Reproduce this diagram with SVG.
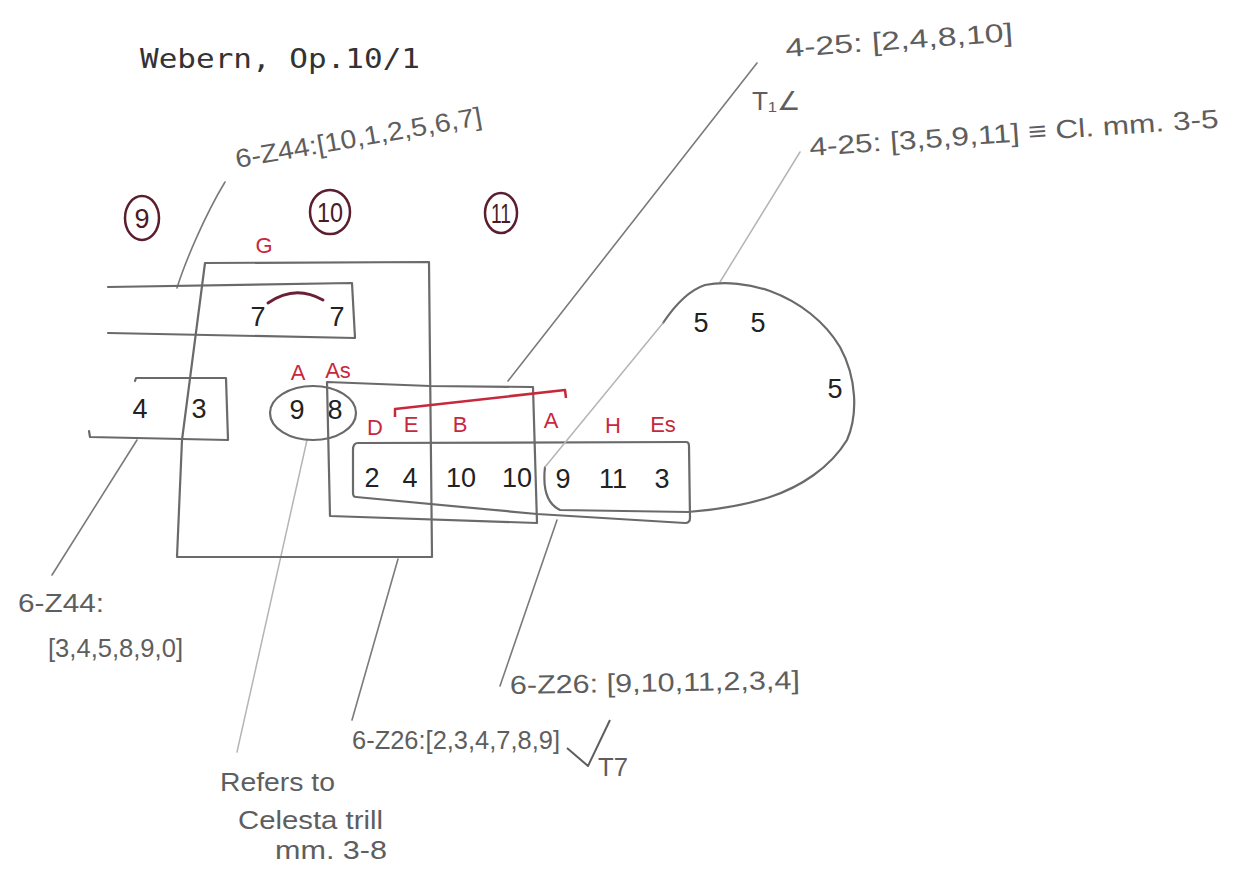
<svg xmlns="http://www.w3.org/2000/svg" width="1236" height="872" viewBox="0 0 1236 872">
<style>
.pen{fill:none;stroke:#6a6a6a;stroke-width:2.2;stroke-linejoin:round;stroke-linecap:round}
.lead{fill:none;stroke:#7a7a7a;stroke-width:1.6;stroke-linecap:round}
.light{fill:none;stroke:#b5b5b5;stroke-width:1.5;stroke-linecap:round}
.num{font-family:"Liberation Sans",Arial,sans-serif;font-size:27px;fill:#222;text-anchor:middle}
.red{font-family:"Liberation Sans",Arial,sans-serif;font-size:22px;fill:#c8283c;text-anchor:middle}
.mnum{font-family:"Liberation Sans",Arial,sans-serif;font-size:27px;fill:#4a1a25;text-anchor:middle}
.mcirc{fill:none;stroke:#5a1e2e;stroke-width:2.5}
.hand{font-family:"Liberation Sans",Arial,sans-serif;font-size:26px;fill:#5e5e5e}
</style>
<rect width="1236" height="872" fill="#fff"/>

<g id="title">
<text x="140" y="68" font-family="DejaVu Sans Mono, monospace" font-size="27" fill="#333" textLength="280" lengthAdjust="spacingAndGlyphs">Webern, Op.10/1</text>
</g>

<g id="connectors">
<path class="lead" d="M177,288 C185,262 205,215 225,182"/>
<path class="lead" d="M137,440 L52,575"/>
<path class="lead" d="M508,381 L757,63"/>
<path class="light" d="M720,282 L800,152"/>
<path class="lead" d="M398,559 L352,720"/>
<path class="light" d="M307,440 L237,752"/>
<path class="lead" d="M557,520 L500,686"/>
</g>

<g id="measure-9"><ellipse class="mcirc" cx="142" cy="218" rx="17" ry="22"/><text class="mnum" x="142" y="228">9</text></g>
<g id="measure-10"><ellipse class="mcirc" cx="330" cy="212" rx="20" ry="22"/><text class="mnum" x="330" y="222" textLength="26" lengthAdjust="spacingAndGlyphs">10</text></g>
<g id="measure-11"><ellipse class="mcirc" cx="501" cy="213" rx="16" ry="20"/><text class="mnum" x="501" y="223" textLength="20" lengthAdjust="spacingAndGlyphs">11</text></g>

<g id="box-G">
<path class="pen" d="M205,263 L429,262 L432,557 L177,557 L182,440 L195,340 Z"/>
<text class="red" x="264" y="253">G</text>
</g>

<g id="box-77">
<path class="pen" d="M108,287 L352,283 L355,338 L108,333"/>
<path d="M268,303 Q295,284 323,300" fill="none" stroke="#6b2035" stroke-width="3" stroke-linecap="round"/>
<text class="num" x="258" y="326" font-size="29">7</text>
<text class="num" x="337" y="326" font-size="29">7</text>
</g>

<g id="box-43">
<path class="pen" d="M135,381 L136,378 L226,378 L228,440 L90,437 L89,431"/>
<text class="num" x="140" y="418" font-size="25">4</text>
<text class="num" x="199" y="418" font-size="25">3</text>
</g>

<g id="ellipse-98">
<ellipse class="pen" cx="313" cy="413" rx="43" ry="27"/>
<text class="red" x="298" y="380">A</text>
<text class="red" x="338" y="378">As</text>
<text class="num" x="297" y="419" font-size="25">9</text>
<text class="num" x="335" y="419" font-size="25">8</text>
</g>

<g id="box-6Z26-a">
<path class="pen" d="M327,382 L430,386 L533,387 L537,523 L330,516 Z"/>
</g>

<g id="box-row">
<path class="pen" d="M358,443 L686,442 Q689,442 689,446 L690,518 Q690,523 685,523 L537,514 L356,497 Q353,497 353,493 L353,450 Q353,443 358,443 Z"/>
<path d="M395,417 L395,409 L565,390 L566,398" fill="none" stroke="#c8283c" stroke-width="2.5" stroke-linejoin="round"/>
<text class="red" x="375" y="435">D</text>
<text class="red" x="411" y="432">E</text>
<text class="red" x="460" y="432">B</text>
<text class="red" x="551" y="428">A</text>
<text class="red" x="613" y="433">H</text>
<text class="red" x="663" y="432">Es</text>
<text class="num" x="372" y="487">2</text>
<text class="num" x="410" y="487">4</text>
<text class="num" x="461" y="487">10</text>
<text class="num" x="517" y="487">10</text>
<text class="num" x="563" y="488">9</text>
<text class="num" x="613" y="488">11</text>
<text class="num" x="662" y="488">3</text>
</g>

<g id="blob">
<path class="pen" d="M663,323 C675,305 690,290 705,285 C725,281 750,284 770,291 C800,302 825,322 840,347 C857,378 858,415 847,440 C830,468 800,487 770,497 C740,507 700,511 688,512 L560,510 C545,503 543,485 545,467"/>
<path class="light" d="M545,467 L663,323"/>
<text class="num" x="701" y="332" font-size="26">5</text>
<text class="num" x="758" y="332" font-size="26">5</text>
<text class="num" x="835" y="398" font-size="26">5</text>
</g>

<g id="label-6Z44-top">
<text class="hand" x="237" y="168" transform="rotate(-10 237 168)" textLength="250" lengthAdjust="spacingAndGlyphs">6-Z44:[10,1,2,5,6,7]</text>
</g>
<g id="label-4-25-a">
<text class="hand" x="786" y="57" transform="rotate(-4 786 57)" textLength="228" lengthAdjust="spacingAndGlyphs">4-25: [2,4,8,10]</text>
<text class="hand" x="752" y="110" font-size="22" textLength="48" lengthAdjust="spacingAndGlyphs">T₁∠</text>
</g>
<g id="label-4-25-b">
<text class="hand" x="810" y="156" transform="rotate(-4 810 156)" textLength="410" lengthAdjust="spacingAndGlyphs">4-25: [3,5,9,11] ≡ Cl. mm. 3-5</text>
</g>
<g id="label-6Z44-bottom">
<text class="hand" x="18" y="612" font-size="24" textLength="86" lengthAdjust="spacingAndGlyphs">6-Z44:</text>
<text class="hand" x="48" y="657" textLength="135" lengthAdjust="spacingAndGlyphs">[3,4,5,8,9,0]</text>
</g>
<g id="label-6Z26-b">
<text class="hand" x="510" y="694" transform="rotate(-1 510 694)" textLength="290" lengthAdjust="spacingAndGlyphs">6-Z26: [9,10,11,2,3,4]</text>
</g>
<g id="label-6Z26-a">
<text class="hand" x="352" y="749" font-size="24" textLength="208" lengthAdjust="spacingAndGlyphs">6-Z26:[2,3,4,7,8,9]</text>
<polyline points="567,748 588,766 610,720" fill="none" stroke="#5e5e5e" stroke-width="2" stroke-linejoin="round"/>
<text class="hand" x="598" y="776" font-size="20" textLength="30" lengthAdjust="spacingAndGlyphs">T7</text>
</g>
<g id="label-celesta">
<text class="hand" x="220" y="791" font-size="23" textLength="115" lengthAdjust="spacingAndGlyphs">Refers to</text>
<text class="hand" x="238" y="829" font-size="22" textLength="145" lengthAdjust="spacingAndGlyphs">Celesta trill</text>
<text class="hand" x="275" y="859" font-size="19" textLength="112" lengthAdjust="spacingAndGlyphs">mm. 3-8</text>
</g>
</svg>
